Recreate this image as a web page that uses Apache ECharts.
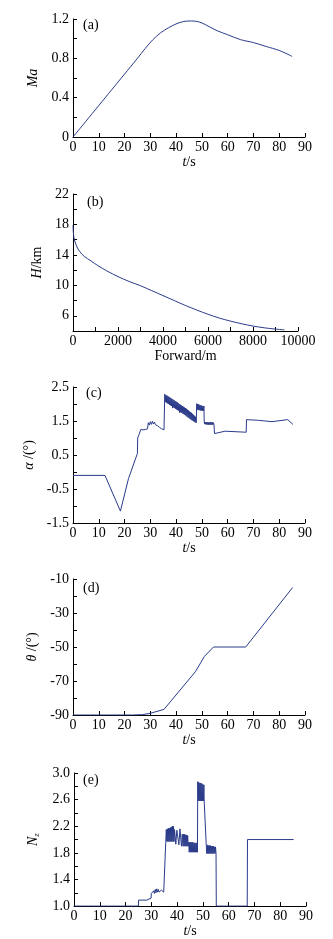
<!DOCTYPE html>
<html><head><meta charset="utf-8">
<script src="https://cdn.jsdelivr.net/npm/echarts@6/dist/echarts.min.js"></script>
<style>html,body{margin:0;padding:0;background:#fff}#c{width:333px;height:939px}</style>
</head><body><div id="c"></div>
<script>
// ---------- data ----------
const maData = [[0,0],[5,0.16],[10,0.32],[15,0.48],[20,0.64],[25,0.8],[28,0.9],[31,0.99],[34,1.06],[37,1.11],[40,1.15],[43,1.175],[46,1.18],[48,1.175],[50,1.16],[53,1.12],[56,1.08],[60,1.04],[65,0.99],[70,0.96],[75,0.92],[80,0.88],[85,0.82]];
const maYLabels = [0,0.4,0.8,1.2];
const tLabels = [0,10,20,30,40,50,60,70,80,90];

const hData = [[0,17.9],[15,17.0],[40,16.3],[90,15.7],[200,14.9],[310,14.4],[500,13.8],[800,13.2],[1100,12.6],[1500,11.9],[2000,11.15],[2500,10.5],[3000,9.95],[3500,9.3],[4000,8.65],[4500,8.0],[5000,7.35],[5500,6.75],[6000,6.2],[6500,5.7],[7000,5.3],[7500,4.95],[8000,4.65],[8500,4.42],[9000,4.25],[9400,4.15]];
const hYLabels = [6,10,14,18,22];
const fwdLabels = [0,2000,4000,6000,8000,10000];

const alphaData = [[0,-0.1],[12.4,-0.1],[18.4,-1.15],[21.5,-0.2],[25,0.55],[25.1,1.0],[25.6,1.1],[26.3,1.25],
[26.8,1.28],[27.2,1.24],[27.6,1.29],[28.0,1.25],[28.4,1.28],[28.9,1.27],
[29.2,1.45],[29.6,1.38],[30.0,1.48],[30.4,1.40],[30.8,1.49],[31.2,1.41],[31.6,1.47],[32.0,1.39],[32.4,1.44],[32.8,1.36],[33.2,1.40],[33.6,1.31],[34.0,1.36],[34.4,1.27],[34.8,1.31],[35.3,1.24],[35.5,1.22],
[35.6,2.29],[35.8,2.06],[36.0,2.26],[36.2,2.04],[36.4,2.25],[36.6,2.02],[36.8,2.23],[37.0,2.0],[37.2,2.21],[37.4,1.98],[37.6,2.19],[37.8,1.96],[38.0,2.17],[38.2,1.94],[38.4,2.15],[38.6,1.88],[38.8,2.13],[39.0,1.9],[39.2,2.11],[39.4,1.88],[39.6,2.09],[39.8,1.86],[40.0,2.07],[40.2,1.84],[40.4,2.05],[40.6,1.82],[40.8,2.03],[41.0,1.8],[41.2,2.0],[41.4,1.74],[41.6,1.98],[41.8,1.76],[42.0,1.96],[42.2,1.74],[42.4,1.94],[42.6,1.72],[42.8,1.92],[43.0,1.7],[43.2,1.9],[43.4,1.68],[43.6,1.88],[43.8,1.66],[44.0,1.86],[44.2,1.63],[44.4,1.83],[44.6,1.61],[44.8,1.81],[45.0,1.59],[45.2,1.78],[45.4,1.56],[45.6,1.76],[45.8,1.54],[46.0,1.74],[46.2,1.52],[46.4,1.71],[46.6,1.5],[46.8,1.68],[47.0,1.48],[47.2,1.65],[47.4,1.46],[47.6,1.62],[47.8,1.45],
[48.0,2.01],[48.2,1.83],[48.4,2.0],[48.6,1.82],[48.8,1.99],[49.0,1.82],[49.2,1.97],[49.4,1.81],[49.6,1.96],[49.8,1.81],[50.0,1.95],[50.2,1.80],[50.4,1.94],[50.6,1.80],[50.8,1.94],[50.9,1.47],
[51.1,1.41],[51.3,1.47],[51.5,1.40],[51.7,1.47],[51.9,1.40],[52.1,1.46],[52.3,1.39],[52.5,1.46],[52.7,1.39],[52.9,1.46],[53.1,1.39],[53.3,1.46],[53.5,1.39],[53.7,1.46],[53.9,1.39],[54.1,1.46],[54.3,1.39],[54.5,1.45],[54.7,1.39],[54.9,1.13],
[59,1.2],[67.2,1.17],[67.3,1.54],[72,1.52],[77.2,1.48],[83.3,1.54],[85.3,1.40]];
const alphaYLabels = [-1.5,-0.5,0.5,1.5,2.5];

const thetaData = [[0,-90],[23,-90],[27,-89.8],[30,-89],[35.3,-86.7],[47.5,-64.5],[51,-55.5],[54.5,-50],[67,-50],[85.2,-15]];
const thetaYLabels = [-90,-70,-50,-30,-10];

const nzData = [[0,1.0],[25,1.0],[25.05,1.09],[28.2,1.09],[28.3,1.12],[29.9,1.12],[30,1.19],
[30.3,1.22],[30.6,1.18],[30.9,1.23],[31.2,1.19],[31.5,1.25],[31.8,1.2],[32.1,1.26],[32.4,1.21],[32.7,1.25],[33.0,1.21],[33.3,1.24],[33.6,1.21],[33.9,1.24],[34.2,1.21],[34.5,1.24],[34.8,1.21],[35.1,1.24],[35.5,1.22],
[35.6,1.97],[35.8,2.15],[36.0,1.97],[36.2,2.16],[36.4,1.97],[36.6,2.17],[36.8,1.97],[37.0,2.17],[37.2,1.97],[37.4,2.18],[37.6,1.97],[37.8,2.19],[38.0,1.97],[38.2,2.2],[38.4,1.97],[38.6,2.2],[38.8,1.97],
[39.0,2.15],[39.4,2.15],[39.5,1.93],[39.8,1.93],[39.9,2.14],[40.6,2.14],[40.7,1.92],[41.0,1.92],[41.1,2.16],[41.6,2.16],[41.7,1.9],[41.9,1.9],[42.0,2.08],[42.3,1.9],[42.5,2.08],[42.7,1.9],[42.9,2.08],[43.1,1.9],[43.3,2.07],[43.5,1.9],[43.7,2.07],[43.9,1.9],[44.1,2.06],[44.3,1.9],[44.5,1.96],
[44.7,1.81],[44.9,1.96],[45.1,1.81],[45.3,1.96],[45.5,1.81],[45.7,1.96],[45.9,1.81],[46.1,1.96],[46.3,1.81],[46.5,1.95],[46.7,1.81],[46.9,1.95],[47.1,1.81],[47.3,1.95],[47.5,1.81],[47.7,1.95],[47.9,1.81],
[48.0,2.87],[48.2,2.58],[48.4,2.86],[48.6,2.58],[48.8,2.85],[49.0,2.58],[49.2,2.85],[49.4,2.58],[49.6,2.84],[49.8,2.58],[50.0,2.83],[50.2,2.58],[50.4,2.82],[50.5,2.58],[51.2,2.58],[51.3,1.92],
[51.5,1.79],[51.7,1.92],[51.9,1.79],[52.1,1.91],[52.3,1.79],[52.5,1.91],[52.7,1.79],[52.9,1.91],[53.1,1.79],[53.3,1.9],[53.5,1.79],[53.7,1.9],[53.9,1.79],[54.1,1.9],[54.3,1.79],[54.5,1.89],[54.7,1.79],[54.9,1.89],[55.1,1.79],[55.2,1.0],[67.2,1.0],[67.3,2.0],[85.2,2.0]];
const nzYLabels = [1.0,1.4,1.8,2.2,2.6,3.0];

// ---------- styling ----------
const FONT = '"Liberation Serif","Times New Roman",serif';
const LINE = '#2b3b8a';
const grids = [
  {left:73, top:19, width:232, height:118},
  {left:73, top:194, width:225, height:137},
  {left:73, top:387, width:232, height:136},
  {left:73, top:579, width:232, height:136},
  {left:74, top:773, width:232, height:136}
];
const has = (arr, v) => arr.some(a => Math.abs(a - v) < 1e-6);
const rich = {i:{fontStyle:'italic', fontFamily:FONT, fontSize:14, color:'#000'}, n:{fontFamily:FONT, fontSize:14, color:'#000'}, sub:{fontStyle:'italic', fontFamily:FONT, fontSize:9, color:'#000', padding:[8,0,0,0]}};
function axisBase(){
  return {
    axisLine:{show:true, onZero:false, lineStyle:{color:'#000', width:1}},
    axisTick:{show:true, inside:true, length:4, lineStyle:{color:'#000'}},
    splitLine:{show:false},
    nameTextStyle:{fontFamily:FONT, fontSize:14, color:'#000', rich:rich},
  };
}
function xAx(gi, min, max, interval, labels, name){
  return Object.assign(axisBase(), {
    type:'value', gridIndex:gi, min:min, max:max, interval:interval,
    name:name, nameLocation:'middle', nameGap:16,
    axisLabel:{fontFamily:FONT, fontSize:14, color:'#000', margin:3, showMinLabel:true, showMaxLabel:true,
      formatter:v => has(labels, v) ? String(v) : ''}
  });
}
function yAx(gi, min, max, interval, labels, fmt, name){
  return Object.assign(axisBase(), {
    type:'value', gridIndex:gi, min:min, max:max, interval:interval,
    name:name, nameLocation:'middle', nameGap:26, nameRotate:90,
    axisLabel:{fontFamily:FONT, fontSize:14, color:'#000', margin:4, showMinLabel:true, showMaxLabel:true,
      formatter:v => has(labels, v) ? fmt(v) : ''}
  });
}
const xName = '{i|t}{n|/s}';
const option = {
  animation:false,
  backgroundColor:'#fff',
  grid: grids,
  xAxis:[
    xAx(0, 0, 90, 10, tLabels, xName),
    xAx(1, 0, 10000, 1000, fwdLabels, 'Forward/m'),
    xAx(2, 0, 90, 10, tLabels, xName),
    xAx(3, 0, 90, 10, tLabels, xName),
    xAx(4, 0, 90, 10, tLabels, xName)
  ],
  yAxis:[
    yAx(0, 0, 1.2, 0.2, maYLabels, v => v===0 ? '0' : v.toFixed(1), '{i|Ma}'),
    yAx(1, 4, 22, 2, hYLabels, v => String(v), '{i|H}{n|/km}'),
    yAx(2, -1.5, 2.5, 0.5, alphaYLabels, v => v.toFixed(1), '{i|α} {n|/(°)}'),
    yAx(3, -90, -10, 10, thetaYLabels, v => String(v), '{i|θ} {n|/(°)}'),
    yAx(4, 1.0, 3.0, 0.2, nzYLabels, v => v.toFixed(1), '{i|N}{sub|z}')
  ],
  graphic:[
    {type:'text', left:83, top:18, style:{text:'(a)', font:'14px '+FONT, fill:'#000'}},
    {type:'text', left:87, top:195, style:{text:'(b)', font:'14px '+FONT, fill:'#000'}},
    {type:'text', left:86, top:386, style:{text:'(c)', font:'14px '+FONT, fill:'#000'}},
    {type:'text', left:83, top:581, style:{text:'(d)', font:'14px '+FONT, fill:'#000'}},
    {type:'text', left:83, top:773, style:{text:'(e)', font:'14px '+FONT, fill:'#000'}}
  ],
  series:[maData, hData, alphaData, thetaData, nzData].map((d, i) => ({
    type:'line', xAxisIndex:i, yAxisIndex:i, data:d, showSymbol:false, symbol:'none',
    smooth: (i < 2) ? 0.3 : false,
    lineStyle:{color:LINE, width:1}, clip:true
  }))
};
const chart = echarts.init(document.getElementById('c'), null, {renderer:'canvas'});
chart.setOption(option);
</script>
</body></html>
